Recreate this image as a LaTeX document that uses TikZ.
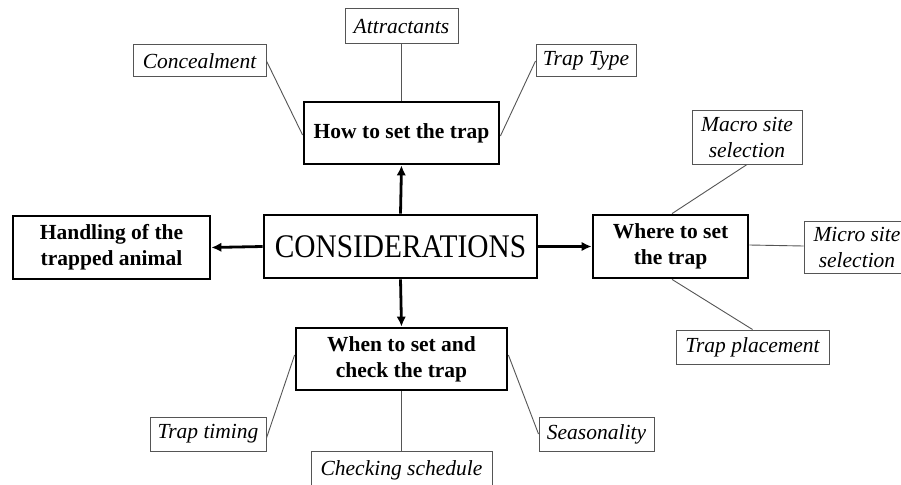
\documentclass[tikz,border=0pt]{standalone}
\usepackage{fontspec}
\setmainfont{Liberation Serif}
\usetikzlibrary{arrows.meta}
\definecolor{thinline}{HTML}{555555}
\begin{document}
\begin{tikzpicture}[x=1pt,y=-1pt,
  mainbox/.style={draw=black,line width=2.8pt,inner sep=0pt,align=center,
     font=\fontsize{21.5}{26}\selectfont\bfseries},
  subbox/.style={draw=thinline,line width=1pt,inner sep=0pt,align=center,
     font=\fontsize{21.5}{26}\selectfont\itshape},
  link/.style={draw=thinline,line width=0.9pt},
  bigarrow/.style={draw=black,line width=2.8pt,-{Latex[length=10pt,width=9.5pt]}}]
\useasboundingbox (0,0) rectangle (901,484);
\clip (0,0) rectangle (901,484);
\fill[white] (0,0) rectangle (901,484);
% main boxes
\node[mainbox,minimum width=273pt,minimum height=63pt] (cons) at (400.5,246.5)
  {\mdseries\upshape\fontsize{33}{36}\selectfont\scalebox{0.89}[1]{CONSIDERATIONS}};
\node[mainbox,minimum width=195pt,minimum height=62pt] (how) at (401.5,133) {How to set the trap};
\node[mainbox,minimum width=197pt,minimum height=63pt] (hand) at (111.5,247.5) {Handling of the\\trapped animal};
\node[mainbox,minimum width=155pt,minimum height=63pt] (where) at (670.5,246.5) {Where to set\\the trap};
\node[mainbox,minimum width=211pt,minimum height=62pt] (when) at (401.5,359) {When to set and\\check the trap};
% sub boxes
\node[subbox,minimum width=113pt,minimum height=35pt] (attr) at (401.5,26.5) {Attractants};
\node[subbox,minimum width=133pt,minimum height=32pt] (conc) at (199.5,61) {Concealment};
\node[subbox,minimum width=100pt,minimum height=32pt] (ttype) at (586,61) {Trap Type};
\node[subbox,minimum width=110pt,minimum height=53pt] (macro) at (747,137.5) {Macro site\\selection};
\node[subbox,minimum width=106pt,minimum height=52pt] (micro) at (857,247) {Micro site\\selection};
\node[subbox,minimum width=153pt,minimum height=34pt] (tplace) at (752.5,347) {Trap placement};
\node[subbox,minimum width=116pt,minimum height=34pt] (ttiming) at (208,434) {Trap timing};
\node[subbox,minimum width=181pt,minimum height=38pt,anchor=north] (check) at (401.5,451) {\raisebox{3pt}{Checking schedule}};
\node[subbox,minimum width=115pt,minimum height=34pt] (season) at (596.5,434) {Seasonality};
% thin links
\draw[link] (attr.south) -- (how.north);
\draw[link] (conc.east) -- ([yshift=-2pt]how.west);
\draw[link] (ttype.west) -- ([yshift=-3pt]how.east);
\draw[link] (macro.south) -- ([xshift=1.5pt]where.north);
\draw[link] ([yshift=1.5pt]where.east) -- ([yshift=1pt]micro.west);
\draw[link] ([xshift=1.5pt]where.south) -- (tplace.north);
\draw[link] ([yshift=-4pt]ttiming.east) -- ([yshift=4pt]when.west);
\draw[link] (when.south) -- (check.north);
\draw[link] (season.west) -- ([yshift=4pt]when.east);
% arrows
\draw[bigarrow] (cons.north) -- (how.south);
\draw[bigarrow] (cons.south) -- (when.north);
\draw[bigarrow] (cons.west) -- (hand.east);
\draw[bigarrow] (cons.east) -- (where.west);
\end{tikzpicture}
\end{document}
